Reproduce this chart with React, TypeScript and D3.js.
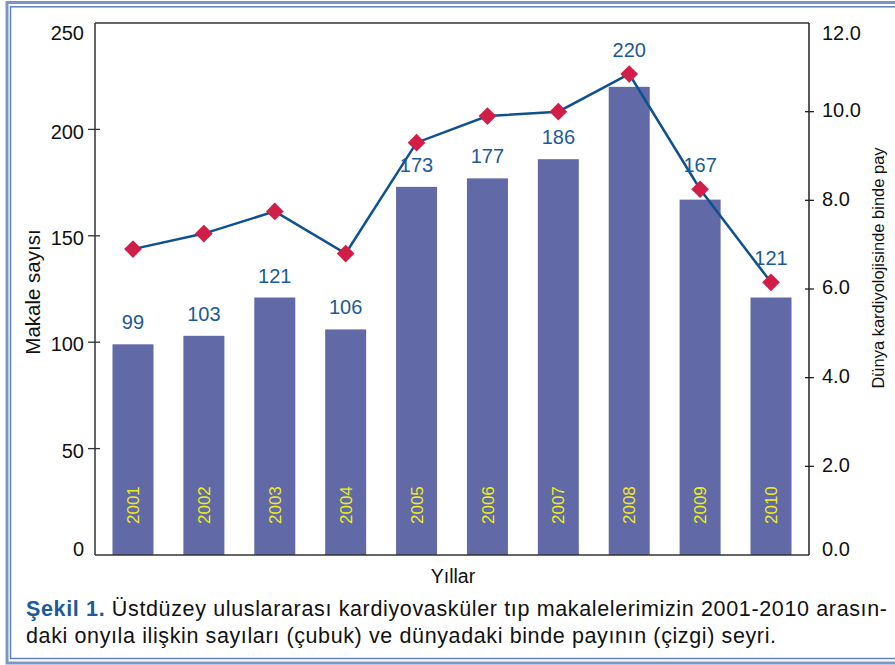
import React from "react";
import * as d3 from "d3";

const years = ["2001","2002","2003","2004","2005","2006","2007","2008","2009","2010"];
const articleCounts = [99, 103, 121, 106, 173, 177, 186, 220, 167, 121];
const perMille = [6.9, 7.25, 7.75, 6.8, 9.3, 9.9, 10.0, 10.85, 8.25, 6.15];
const leftTicks = [0, 50, 100, 150, 200, 250];
const rightTicks = [0, 2, 4, 6, 8, 10, 12];
const captionBold = "Şekil 1.";
const captionLine1 = " Üstdüzey uluslararası kardiyovasküler tıp makalelerimizin 2001-2010 arasın-";
const captionLine2 = "daki onyıla ilişkin sayıları (çubuk) ve dünyadaki binde payının (çizgi) seyri.";

const W = 895, H = 665;
const L = 95, R = 809, T = 23, B = 555;
const FONT = "'Liberation Sans', Arial, Helvetica, sans-serif";
// bar labels lifted above the line marker for these indices
const LIFTED = new Set([7, 8, 9]);

export default function App() {
  const x = d3.scalePoint<string>().domain(years).range([L, R]).padding(0.536);
  const yL = d3.scaleLinear().domain([0, 250]).range([B, T]);
  const yR = d3.scaleLinear().domain([0, 12]).range([B, T]);
  const barW = 41;
  const line = d3.line<number>()
    .x((_, i) => x(years[i]) as number)
    .y((d) => yR(d));
  const diamond = d3.symbol().type(d3.symbolDiamond2).size(200)();

  return (
    <svg width={W} height={H} style={{ position: "absolute", left: 0, top: 0, background: "#fff" }} fontFamily={FONT}>
      {/* frame */}
      <rect x={7} y={2.5} width={W + 10} height={660.5} fill="none" stroke="#7d97c5" strokeWidth={3} />
      <rect x={10.5} y={6.8} width={W + 10} height={651.7} fill="none" stroke="#5f82b8" strokeWidth={1.5} />

      {/* bars */}
      {articleCounts.map((v, i) => (
        <rect key={"b" + i} x={(x(years[i]) as number) - barW / 2} y={yL(v)} width={barW} height={B - yL(v)} fill="#6169a6" />
      ))}
      {/* year labels in bars */}
      {years.map((yr, i) => (
        <text key={"yr" + i} transform={`translate(${x(yr)},${524}) rotate(-90)`} dy="0.36em" fontSize={17} fill="#eeee1c">{yr}</text>
      ))}

      {/* line */}
      <path d={line(perMille) || ""} fill="none" stroke="#0e5190" strokeWidth={2.5} />
      {perMille.map((v, i) => (
        <path key={"m" + i} d={diamond || ""} transform={`translate(${x(years[i])},${yR(v)})`} fill="#d01e48" />
      ))}

      {/* bar value labels */}
      {articleCounts.map((v, i) => {
        const ly = LIFTED.has(i) ? yR(perMille[i]) - 17 : yL(v) - 15;
        return (
          <text key={"v" + i} x={x(years[i]) as number} y={ly} textAnchor="middle" fontSize={20} fill="#1a5a98">{v}</text>
        );
      })}

      {/* axes frame */}
      <line x1={L} y1={T} x2={R} y2={T} stroke="#333" strokeWidth={1.5} />
      <line x1={L} y1={B} x2={R} y2={B} stroke="#333" strokeWidth={1.5} />
      <line x1={L} y1={T} x2={L} y2={B} stroke="#333" strokeWidth={1.5} />
      <line x1={R} y1={T} x2={R} y2={B} stroke="#222" strokeWidth={1.5} />

      {/* left ticks */}
      {leftTicks.map((t, i) => {
        const y = yL(t);
        const ly = i === 0 ? y - 6 : i === leftTicks.length - 1 ? y + 10 : y + 2;
        return (
          <g key={"lt" + t}>
            {i > 0 && i < leftTicks.length - 1 && <line x1={L - 7} x2={L + 5} y1={y} y2={y} stroke="#333" strokeWidth={1.3} />}
            <text x={84} y={ly} dy="0.36em" textAnchor="end" fontSize={20} fill="#111">{t}</text>
          </g>
        );
      })}
      {/* right ticks */}
      {rightTicks.map((t, i) => {
        const y = yR(t);
        const ly = i === 0 ? y - 6 : i === rightTicks.length - 1 ? y + 10 : y - 2;
        return (
          <g key={"rt" + t}>
            {i > 0 && i < rightTicks.length - 1 && <line x1={R - 4} x2={R + 5} y1={y} y2={y} stroke="#222" strokeWidth={1.3} />}
            <text x={822} y={ly} dy="0.36em" textAnchor="start" fontSize={20} fill="#111">{t.toFixed(1)}</text>
          </g>
        );
      })}

      {/* axis titles */}
      <text transform={`translate(33,292) rotate(-90)`} dy="0.36em" textAnchor="middle" fontSize={20.5} fill="#111">Makale sayısı</text>
      <text transform={`translate(878,268) rotate(-90)`} dy="0.36em" textAnchor="middle" fontSize={16.5} fill="#111">Dünya kardiyolojisinde binde pay</text>
      <text x={453} y={583} textAnchor="middle" fontSize={19.5} fill="#111">Yıllar</text>

      {/* caption */}
      <text x={26} y={616} fontSize={21.5} fill="#111" textLength={861} lengthAdjust="spacing">
        <tspan fontWeight="bold" fill="#1b5b9b">{captionBold}</tspan>
        <tspan>{captionLine1}</tspan>
      </text>
      <text x={26} y={643} fontSize={21.5} fill="#111" textLength={750} lengthAdjust="spacing">{captionLine2}</text>
    </svg>
  );
}
